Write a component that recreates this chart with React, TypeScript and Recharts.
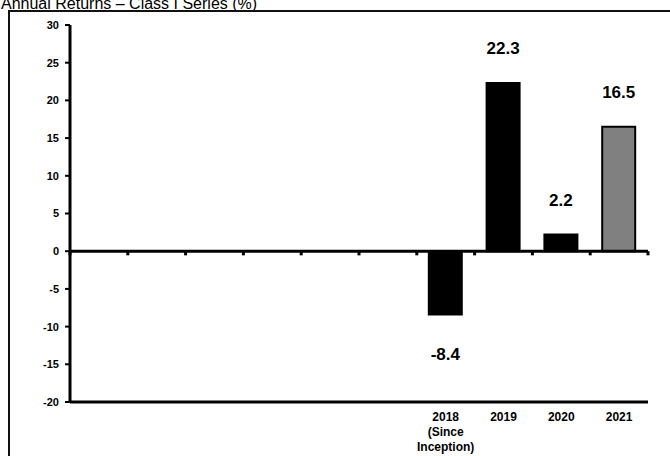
import React from "react";
import {
  BarChart,
  Bar,
  XAxis,
  YAxis,
  Cell,
  LabelList,
  ReferenceLine,
} from "recharts";

const categoryKeys = ["p1", "p2", "p3", "p4", "p5", "p6", "2018", "2019", "2020", "2021"];
const tickLabels: string[][] = [
  [], [], [], [], [], [],
  ["2018", "(Since", "Inception)"],
  ["2019"],
  ["2020"],
  ["2021"],
];
const returns: (number | null)[] = [null, null, null, null, null, null, -8.4, 22.3, 2.2, 16.5];
const barColors = ["#000", "#000", "#000", "#000", "#000", "#000", "#000", "#000", "#000", "#808080"];
const yTicks = [-20, -15, -10, -5, 0, 5, 10, 15, 20, 25, 30];

const data = categoryKeys.map((key, i) => ({ key, value: returns[i] }));

const FONT = 'Arial, "Liberation Sans", sans-serif';

function CategoryTick(props: any) {
  const { x, y, payload } = props;
  const idx = categoryKeys.indexOf(payload.value);
  const lines = idx >= 0 ? tickLabels[idx] : [];
  return (
    <text x={x} y={y + 11} textAnchor="middle" fontFamily={FONT} fontSize={12} fontWeight="bold" fill="#000">
      {lines.map((line, i) => (
        <tspan key={i} x={x} dy={i === 0 ? 0 : 15}>
          {line}
        </tspan>
      ))}
    </text>
  );
}

function ValueLabel(props: any) {
  const { x, y, width, height, value } = props;
  if (value == null) return null;
  const top = Math.min(y, y + height);
  const bottom = Math.max(y, y + height);
  const ty = value >= 0 ? top - 29 : bottom + 45;
  return (
    <text x={x + width / 2} y={ty} textAnchor="middle" fontFamily={FONT} fontSize={17} fontWeight="bold" fill="#000">
      {value}
    </text>
  );
}

export default function App() {
  return (
    <div style={{ position: "fixed", left: 0, top: 0, width: 670, height: 456, overflow: "hidden", background: "#fff" }}>
      <div
        style={{
          position: "absolute",
          left: 1,
          top: -4,
          fontFamily: FONT,
          fontSize: 16,
          lineHeight: "16px",
          color: "#000",
          whiteSpace: "nowrap",
        }}
      >
        Annual Returns – Class I Series (%)
      </div>
      <div
        style={{
          position: "absolute",
          left: 8,
          top: 10,
          right: 0,
          bottom: 0,
          borderLeft: "2px solid #111",
          borderTop: "2px solid #111",
        }}
      />
      <div style={{ position: "absolute", left: 0, top: 0 }}>
        <BarChart
          width={670}
          height={456}
          data={data}
          margin={{ top: 25, right: 22, bottom: 0, left: 0 }}
          barSize={33}
        >
          <XAxis
            dataKey="key"
            height={54}
            interval={0}
            axisLine={{ stroke: "#000", strokeWidth: 3 }}
            tickLine={false}
            tick={<CategoryTick />}
          />
          <YAxis
            width={70}
            domain={[-20, 30]}
            ticks={yTicks}
            interval={0}
            axisLine={{ stroke: "#000", strokeWidth: 3 }}
            tickLine={{ stroke: "#000", strokeWidth: 2 }}
            tickSize={5}
            tickMargin={6}
            tick={{ fill: "#000", fontSize: 11, fontWeight: "bold", fontFamily: FONT }}
          />
          <ReferenceLine y={0} stroke="#000" strokeWidth={3} />
          {categoryKeys.map((key) => (
            <ReferenceLine
              key={"t" + key}
              position="start"
              segment={[{ x: key, y: 0 }, { x: key, y: -0.55 }]}
              stroke="#000"
              strokeWidth={3}
            />
          ))}
          <ReferenceLine
            position="end"
            segment={[
              { x: categoryKeys[categoryKeys.length - 1], y: 0 },
              { x: categoryKeys[categoryKeys.length - 1], y: -0.55 },
            ]}
            stroke="#000"
            strokeWidth={3}
          />
          <Bar dataKey="value" stroke="#000" strokeWidth={2} isAnimationActive={false}>
            {data.map((d, i) => (
              <Cell key={d.key} fill={barColors[i]} />
            ))}
            <LabelList dataKey="value" content={<ValueLabel />} />
          </Bar>
        </BarChart>
      </div>
    </div>
  );
}
